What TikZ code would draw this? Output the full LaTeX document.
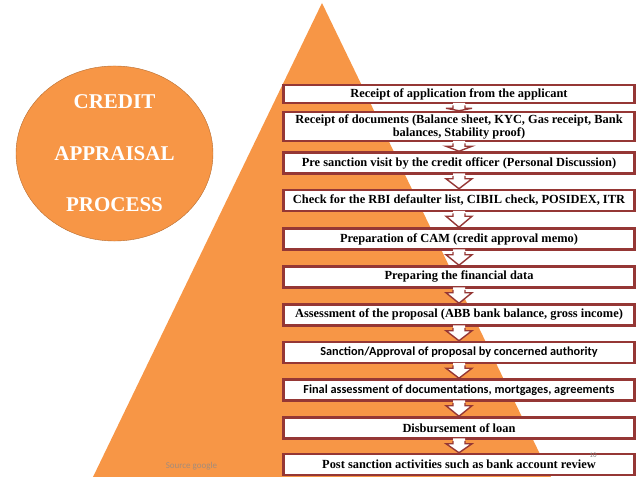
\documentclass[tikz,border=0pt]{standalone}
\usepackage{fontspec}
\setmainfont{Liberation Serif}
\newfontfamily\calibri{Carlito}
\usepackage{tikz}
\usetikzlibrary{shapes.geometric,positioning,calc,shadows}
\definecolor{pyrorange}{RGB}{247,150,70}
\definecolor{ovalrim}{RGB}{182,109,49}
\definecolor{boxrim}{RGB}{149,55,53}
\definecolor{notegray}{RGB}{165,140,122}

\begin{document}
\begin{tikzpicture}[
    x=1pt, y=1pt,
    stage/.style={rectangle, draw=boxrim, fill=white, line width=2.5pt,
                minimum width=351pt, minimum height=21pt, inner sep=1pt, align=center,
                font=\fontsize{12.4}{13}\selectfont\bfseries,
                drop shadow={shadow xshift=0.8pt, shadow yshift=-1.2pt, opacity=0.3}},
    chev/.style={draw=boxrim, line width=1.4pt, line join=miter},
    title/.style={ellipse, draw=ovalrim, fill=pyrorange, minimum width=197pt, minimum height=171pt,
                align=center, text=white, font=\fontsize{21}{51.5}\selectfont\bfseries}
]
\useasboundingbox (0,0) rectangle (638,479);
% pyramid behind the steps
\fill[pyrorange] (322,476) -- (551,2) -- (93,2) -- cycle;
\node[title] (title) at (114.5,325.5) {CREDIT\\APPRAISAL\\PROCESS};

\node[stage, minimum height=18pt] (s1) at (459,385) {Receipt of application from the applicant};
\node[stage, minimum height=29pt] (s2) at (459,352.5) {Receipt of documents (Balance sheet, KYC, Gas receipt, Bank\\balances, Stability proof)};
\node[stage] (s3) at (459,316) {Pre sanction visit by the credit officer (Personal Discussion)};
\node[stage] (s4) at (459,278.5) {Check for the RBI defaulter list, CIBIL check, POSIDEX, ITR};
\node[stage] (s5) at (459,240) {Preparation of CAM (credit approval memo)};
\node[stage] (s6) at (459,202) {Preparing the financial data};
\node[stage] (s7) at (459,164) {Assessment of the proposal (ABB bank balance, gross income)};
\node[stage, font=\calibri\fontsize{12.3}{13}\selectfont\bfseries] (s8) at (459,126.5) {Sanction/Approval of proposal by concerned authority};
\node[stage, font=\calibri\fontsize{12.3}{13}\selectfont\bfseries] (s9) at (459,89) {Final assessment of documentations, mortgages, agreements};
\node[stage] (s10) at (459,51) {Disbursement of loan};
\node[stage] (s11) at (459,14.5) {Post sanction activities such as bank account review};

% down arrows between the steps
\foreach \a/\b in {s1/s2,s2/s3,s3/s4,s4/s5,s5/s6,s6/s7,s7/s8,s8/s9,s9/s10,s10/s11}{
  \fill[white] let \p1=(\a.south), \p2=(\b.north) in
    (\x1-6,\y1+1.4) -- (\x1-6,\y1-4) -- (\x1-13,\y1-4) -- (\x1,\y2) -- (\x1+13,\y1-4) -- (\x1+6,\y1-4) -- (\x1+6,\y1+1.4) -- cycle;
  \draw[chev] let \p1=(\a.south), \p2=(\b.north) in
    (\x1-6,\y1-1.25) -- (\x1-6,\y1-4) -- (\x1-13,\y1-4) -- (\x1,\y2) -- (\x1+13,\y1-4) -- (\x1+6,\y1-4) -- (\x1+6,\y1-1.25);
}

\node[font=\calibri\fontsize{9}{10}\selectfont, text=notegray] (src) at (191.5,13) {Source google};
\node[font=\calibri\fontsize{7}{8}\selectfont, text=gray] (pg) at (593,24) {10};
\end{tikzpicture}
\end{document}
